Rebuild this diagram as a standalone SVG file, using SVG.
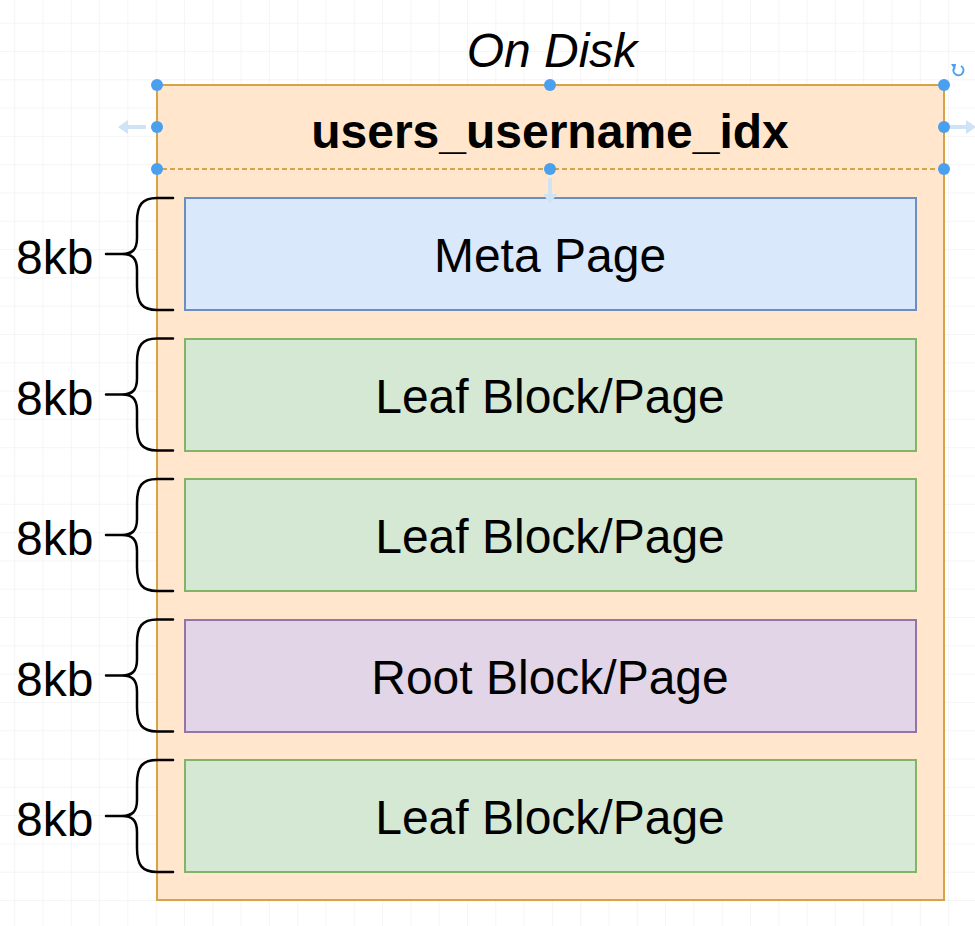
<svg xmlns="http://www.w3.org/2000/svg" width="975" height="926" viewBox="0 0 975 926">
  <defs>
    <pattern id="grid" x="14.2" y="22.7" width="28.3" height="28.3" patternUnits="userSpaceOnUse">
      <path d="M0,0 H28.3 M0,0 V28.3" fill="none" stroke="#ececec" stroke-width="1"/>
    </pattern>
    <style>
      .lbl { font-family: "Liberation Sans", Arial, sans-serif; font-size: 48px; fill: #000; text-anchor: middle; }
      .kb { font-family: "Liberation Sans", Arial, sans-serif; font-size: 48px; fill: #000; }
      .brace { fill: none; stroke: #000; stroke-width: 2.5; stroke-linecap: round; }
      .meta { fill: #dae8fc; stroke: #6c8ebf; stroke-width: 2; }
      .leaf { fill: #d5e8d4; stroke: #82b366; stroke-width: 2; }
      .root { fill: #e1d5e7; stroke: #9673a6; stroke-width: 2; }
      .handle { fill: #4a9fef; }
      .hint { fill: none; stroke: #cfe3f5; stroke-width: 4; }
      .hinthead { fill: #cfe3f5; }
    </style>
  </defs>
  <rect width="975" height="926" fill="#ffffff"/>
  <rect width="975" height="926" fill="url(#grid)"/>

  <text x="552" y="67" class="lbl" font-style="italic">On Disk</text>

  <g id="container">
    <rect x="157" y="85" width="787" height="815" fill="#ffe6cc" stroke="#d6a447" stroke-width="2"/>
    <rect x="157" y="85" width="787" height="84" fill="none" stroke="#d6a447" stroke-width="2" stroke-dasharray="5,3"/>
    <text x="550" y="148" class="lbl" font-weight="bold">users_username_idx</text>
  </g>

  <g id="meta-page">
    <rect x="185" y="198" width="731" height="112" class="meta"/>
    <text x="550" y="272" class="lbl">Meta Page</text>
  </g>
  <g id="leaf-1">
    <rect x="185" y="339" width="731" height="112" class="leaf"/>
    <text x="550" y="413" class="lbl">Leaf Block/Page</text>
  </g>
  <g id="leaf-2">
    <rect x="185" y="479" width="731" height="112" class="leaf"/>
    <text x="550" y="553" class="lbl">Leaf Block/Page</text>
  </g>
  <g id="root">
    <rect x="185" y="620" width="731" height="112" class="root"/>
    <text x="550" y="694" class="lbl">Root Block/Page</text>
  </g>
  <g id="leaf-3">
    <rect x="185" y="760" width="731" height="112" class="leaf"/>
    <text x="550" y="834" class="lbl">Leaf Block/Page</text>
  </g>

  <g id="braces">
    <g>
      <path class="brace" d="M173,198 H157 C142,198 137,205 137,222 V238 C137,250 132,254 122,254 H106 M122,254 C132,254 137,258 137,270 V286 C137,303 142,310 157,310 H173"/>
      <text x="16" y="274" class="kb">8kb</text>
    </g>
    <g transform="translate(0,140.5)">
      <path class="brace" d="M173,198 H157 C142,198 137,205 137,222 V238 C137,250 132,254 122,254 H106 M122,254 C132,254 137,258 137,270 V286 C137,303 142,310 157,310 H173"/>
      <text x="16" y="274" class="kb">8kb</text>
    </g>
    <g transform="translate(0,281)">
      <path class="brace" d="M173,198 H157 C142,198 137,205 137,222 V238 C137,250 132,254 122,254 H106 M122,254 C132,254 137,258 137,270 V286 C137,303 142,310 157,310 H173"/>
      <text x="16" y="274" class="kb">8kb</text>
    </g>
    <g transform="translate(0,421.5)">
      <path class="brace" d="M173,198 H157 C142,198 137,205 137,222 V238 C137,250 132,254 122,254 H106 M122,254 C132,254 137,258 137,270 V286 C137,303 142,310 157,310 H173"/>
      <text x="16" y="274" class="kb">8kb</text>
    </g>
    <g transform="translate(0,562)">
      <path class="brace" d="M173,198 H157 C142,198 137,205 137,222 V238 C137,250 132,254 122,254 H106 M122,254 C132,254 137,258 137,270 V286 C137,303 142,310 157,310 H173"/>
      <text x="16" y="274" class="kb">8kb</text>
    </g>
  </g>

  <g id="selection">
    <line x1="126" y1="127" x2="146" y2="127" class="hint"/>
    <path d="M118,127 L128,120 L128,134 Z" class="hinthead"/>
    <line x1="950" y1="127" x2="968" y2="127" class="hint"/>
    <path d="M976,127 L966,120 L966,134 Z" class="hinthead"/>
    <line x1="550" y1="178" x2="550" y2="196" class="hint"/>
    <path d="M550,204 L543,194 L557,194 Z" class="hinthead"/>
    <circle cx="157" cy="85" r="6" class="handle"/>
    <circle cx="550" cy="85" r="6" class="handle"/>
    <circle cx="944" cy="85" r="6" class="handle"/>
    <circle cx="157" cy="127" r="6" class="handle"/>
    <circle cx="944" cy="127" r="6" class="handle"/>
    <circle cx="157" cy="169" r="6" class="handle"/>
    <circle cx="550" cy="169" r="6" class="handle"/>
    <circle cx="944" cy="169" r="6" class="handle"/>
    <path d="M961,66 A5,5 0 1 1 954,68" fill="none" stroke="#4a9fef" stroke-width="2"/>
    <path d="M951,64 L956,64 L955,70 Z" fill="#4a9fef"/>
  </g>
</svg>
